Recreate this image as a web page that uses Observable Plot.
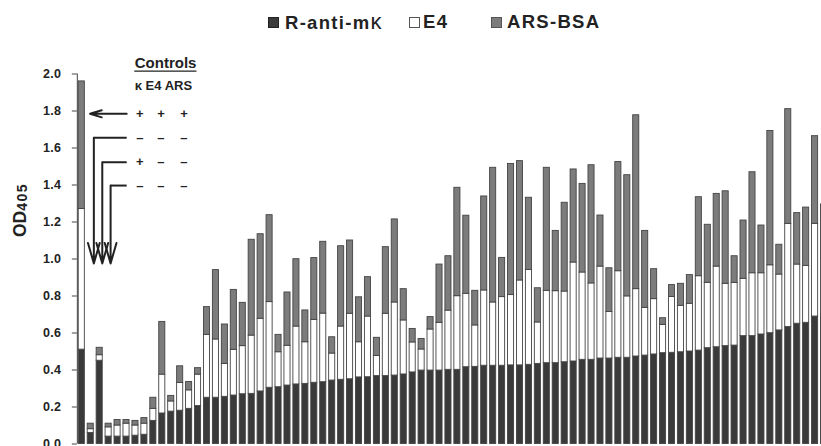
<!DOCTYPE html>
<html>
<head>
<meta charset="utf-8">
<script src="https://cdn.jsdelivr.net/npm/d3@7"></script>
<script src="https://cdn.jsdelivr.net/npm/@observablehq/plot@0.6"></script>
<style>
  html, body { margin: 0; padding: 0; overflow: hidden; background: #fff; }
  #wrap { width: 821px; height: 446px; overflow: hidden; position: relative; font-family: "Liberation Sans", Arial, sans-serif; color: #222; }
  #legend { position: relative; width: 821px; height: 36px; }
  #legend .sw { position: absolute; top: 17px; width: 11px; height: 11px; box-sizing: border-box; }
  #legend .lb { position: absolute; top: 12.6px; font-size: 18.5px; line-height: 18.5px; font-weight: bold; letter-spacing: 1.3px; white-space: nowrap; }
  #legend .kappa { font-weight: normal; font-size: 22px; letter-spacing: 0; }
  #chart { width: 821px; overflow: hidden; }
  #chart svg { display: block; max-width: none !important; }
  #chart g[aria-label="y-axis tick label"] text { letter-spacing: 0.3px; }
</style>
</head>
<body>
<div id="wrap">
  <div id="legend"></div>
  <div id="chart"></div>
</div>
<script>
// ---- data ----
const seriesNames = ["R-anti-mκ", "E4", "ARS-BSA"];
const seriesColors = ["#3a3a3a", "#ffffff", "#7c7c7c"];

// OD405 per sample, stacked: R-anti-mκ (bottom), E4 (middle), ARS-BSA (top)
const rAntiMK = [0.51,0.06,0.45,0.04,0.04,0.04,0.045,0.05,0.125,0.165,
  0.175,0.18,0.19,0.205,0.25,0.25,0.255,0.262,0.269,0.271,
  0.284,0.304,0.307,0.316,0.322,0.325,0.331,0.334,0.343,0.347,
  0.35,0.36,0.361,0.367,0.367,0.37,0.376,0.387,0.397,0.397,
  0.397,0.401,0.401,0.415,0.417,0.423,0.423,0.423,0.425,0.425,
  0.428,0.433,0.437,0.437,0.442,0.446,0.455,0.455,0.462,0.462,
  0.466,0.466,0.473,0.478,0.484,0.491,0.493,0.496,0.5,0.505,
  0.518,0.523,0.529,0.532,0.583,0.583,0.592,0.599,0.614,0.632,
  0.65,0.655,0.689,0.70];
const e4 = [0.76,0.02,0.03,0.05,0.06,0.07,0.055,0.06,0.065,0.21,
  0.055,0.15,0.10,0.17,0.34,0.315,0.178,0.247,0.26,0.315,
  0.393,0.463,0.189,0.215,0.313,0.225,0.34,0.371,0.146,0.288,
  0.354,0.19,0.328,0.109,0.337,0.395,0.292,0.162,0.114,0.222,
  0.258,0.32,0.398,0.397,0.224,0.407,0.342,0.371,0.38,0.459,
  0.513,0.224,0.391,0.389,0.382,0.535,0.472,0.413,0.497,0.252,
  0.468,0.332,0.364,0.258,0.299,0.153,0.302,0.251,0.258,0.402,
  0.353,0.436,0.337,0.339,0.31,0.34,0.331,0.367,0.302,0.558,
  0.32,0.308,0.501,0.30];
const arsBSA = [0.69,0.03,0.04,0.02,0.03,0.02,0.025,0.03,0.06,0.285,
  0.03,0.09,0.045,0.035,0.15,0.375,0.213,0.324,0.234,0.518,
  0.457,0.47,0.094,0.288,0.364,0.172,0.334,0.388,0.088,0.434,
  0.396,0.243,0.213,0.098,0.36,0.449,0.169,0.073,0.057,0.067,
  0.315,0.294,0.586,0.422,0.187,0.508,0.728,0.212,0.709,0.645,
  0.39,0.185,0.665,0.326,0.48,0.503,0.479,0.639,0.276,0.236,
  0.59,0.655,0.94,0.416,0.162,0.036,0.064,0.119,0.155,0.427,
  0.314,0.393,0.5,0.144,0.315,0.546,0.258,0.726,0.161,0.62,
  0.278,0.315,0.474,0.295];

const yTicks = [0, 0.2, 0.4, 0.6, 0.8, 1.0, 1.2, 1.4, 1.6, 1.8, 2.0];
const yLabelMain = "OD";
const yLabelSub = "405";

// Controls annotation (in data coordinates: x = sample index, y = OD)
const controlsTitle = "Controls";
const controlsHeader = "κ E4 ARS";
const controlCols = [6.49, 8.85, 11.42];
const controlRowsY = [1.785, 1.655, 1.523, 1.397];
const controlSigns = [["+","+","+"], ["–","–","–"], ["+","–","–"], ["–","–","–"]];
const arrowTargets = [0.92, 1.347, 2.29, 3.22]; // x where each arrow points/turns
const arrowStartX = 5.02;
const arrowTipY = 0.976;

// ---- legend ----
const legend = document.getElementById("legend");
const legendItems = [
  {name: "R-anti-m", kappa: "κ", color: seriesColors[0], border: "#222", sx: 268, tx: 285},
  {name: "E4", color: seriesColors[1], border: "#555", sx: 409, tx: 423},
  {name: "ARS-BSA", color: seriesColors[2], border: "#555", sx: 491, tx: 507}
];
for (const it of legendItems) {
  const sw = document.createElement("div");
  sw.className = "sw";
  sw.style.left = it.sx + "px";
  sw.style.background = it.color;
  sw.style.border = "1px solid " + it.border;
  legend.appendChild(sw);
  const lb = document.createElement("div");
  lb.className = "lb";
  lb.style.left = it.tx + "px";
  lb.textContent = it.name;
  if (it.kappa) {
    const k = document.createElement("span");
    k.className = "kappa";
    k.textContent = it.kappa;
    lb.appendChild(k);
  }
  legend.appendChild(lb);
}

// ---- stacked table ----
const table = [];
rAntiMK.forEach((v, i) => {
  const vals = [v, e4[i], arsBSA[i]];
  let acc = 0;
  vals.forEach((val, s) => {
    table.push({i, series: seriesNames[s], y1: acc, y2: acc + val});
    acc += val;
  });
});

const signs = [];
controlRowsY.forEach((y, r) => controlCols.forEach((x, c) => signs.push({x, y, t: controlSigns[r][c]})));

const bent = arrowTargets.slice(1).map((x, k) => ({x, y: controlRowsY[k + 1]}));

const plot = Plot.plot({
  width: 828,
  height: 410,
  marginLeft: 76.83,
  marginRight: 0,
  marginTop: 37.5,
  marginBottom: 2.5,
  x: {domain: [-0.5, 83.5], axis: null},
  y: {domain: [0, 2], axis: null},
  color: {domain: seriesNames, range: seriesColors},
  style: {fontFamily: "'Liberation Sans', Arial, sans-serif", fontSize: "12.5px", fontWeight: "bold", color: "#222", background: "transparent", overflow: "visible", maxWidth: "none"},
  marks: [
    Plot.axisY({ticks: yTicks, tickFormat: d3.format(".1f"), tickSize: 5, tickPadding: 11, label: null, stroke: "#444"}),
    Plot.ruleX([-0.5], {y1: 0, y2: 2, stroke: "#444", strokeWidth: 1}),
    Plot.rect(table, {
      x1: d => d.i - 0.34, x2: d => d.i + 0.34, y1: "y1", y2: "y2",
      fill: "series", stroke: "#444", strokeWidth: 0.9
    }),
    // Controls annotation
    Plot.text([controlsTitle], {x: 5.92, y: 2.057, text: d => d, textAnchor: "start", fontSize: 15, fontWeight: "bold", fill: "#222"}),
    Plot.ruleY([2.016], {x1: 5.92, x2: 12.88, stroke: "#222", strokeWidth: 1.2}),
    Plot.text([controlsHeader], {x: 5.92, y: 1.935, text: d => d, textAnchor: "start", fontSize: 13, fontWeight: "bold", fill: "#222"}),
    Plot.text(signs, {x: "x", y: "y", text: "t", fontSize: 13, fontWeight: "bold", fill: "#222"}),
    // left arrow to the first bar
    Plot.arrow([{x1: arrowStartX, x2: arrowTargets[0], y: controlRowsY[0]}], {
      x1: "x1", x2: "x2", y1: "y", y2: "y", stroke: "#222", strokeWidth: 2, headLength: 13, headAngle: 34
    }),
    // bent arrows: horizontal then down
    Plot.link(bent, {x1: arrowStartX, x2: "x", y1: "y", y2: "y", stroke: "#222", strokeWidth: 2}),
    Plot.arrow(bent, {x1: "x", x2: "x", y1: "y", y2: arrowTipY, stroke: "#222", strokeWidth: 2, headLength: 16, headAngle: 32})
  ]
});

// y-axis label with subscript
const svg = d3.select(plot);
const lab = svg.append("text")
  .attr("transform", "translate(25.5,174) rotate(-90)")
  .attr("text-anchor", "middle")
  .attr("fill", "#222")
  .style("font-weight", "bold");
lab.append("tspan").attr("font-size", 17.5).text(yLabelMain);
lab.append("tspan").attr("font-size", 14).attr("dy", 1.5).style("letter-spacing", "1.5px").text(yLabelSub);

document.getElementById("chart").appendChild(plot);
</script>
</body>
</html>
